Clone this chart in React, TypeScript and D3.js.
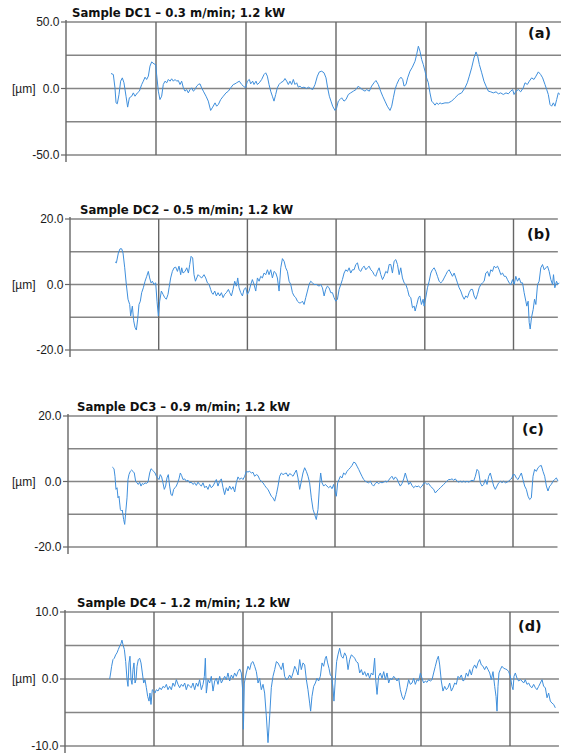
import React from 'react';
import * as d3 from 'd3';

type Pt = [number, number];

// profile position (grid units) vs height (µm)
const titles = [
    'Sample DC1 – 0.3 m/min; 1.2 kW',
    'Sample DC2 – 0.5 m/min; 1.2 kW',
    'Sample DC3 – 0.9 m/min; 1.2 kW',
    'Sample DC4 – 1.2 m/min; 1.2 kW',
];
const tags = ['(a)', '(b)', '(c)', '(d)'];
const yLimits = [50, 20, 20, 10];
const yGridSteps = [25, 10, 10, 5];
const yUnit = '[µm]';

const profileA: Pt[] = [
    [0.500, 11.3], [0.526, 10.5], [0.544, 0.5], [0.556, -10.8], [0.570, -11.5], [0.589, -4.5], [0.607, 5.5], [0.626, 8],
    [0.644, 4.3], [0.667, -5.8], [0.685, -14], [0.704, -7], [0.730, -5.8], [0.748, -3.3], [0.767, -5.8], [0.793, -3.3],
    [0.815, -2], [0.841, 3], [0.859, 5.5], [0.878, 8.5], [0.896, 6.8], [0.915, 9.3], [0.933, 16.8], [0.952, 20],
    [0.978, 18.5], [0.996, 18], [1.007, 10.5], [1.026, -2], [1.044, -8.3], [1.063, -5.8], [1.081, 3], [1.100, 5.5],
    [1.119, 4.3], [1.137, 6.8], [1.156, 5.5], [1.174, 7.3], [1.193, 5.5], [1.211, 6.8], [1.230, 5.5], [1.248, 6],
    [1.267, 3], [1.285, 5.5], [1.304, 0.5], [1.322, -2], [1.341, -0.8], [1.359, -3.3], [1.378, -0.8], [1.396, 0.5],
    [1.415, -2], [1.433, -0.8], [1.452, 1.8], [1.470, 3], [1.489, 3.5], [1.507, 0.5], [1.526, -2], [1.556, -5.8],
    [1.581, -9.5], [1.607, -16.5], [1.630, -14], [1.656, -10.8], [1.674, -13.3], [1.693, -12], [1.719, -8.3], [1.748, -5.8],
    [1.778, -3.3], [1.804, -2], [1.830, 0.5], [1.859, 3], [1.878, 3.5], [1.896, 4.3], [1.926, 5.5], [1.952, 3],
    [1.970, 1.8], [1.996, 0.5], [2.015, 5.5], [2.037, 6.8], [2.052, 3.5], [2.074, 5.5], [2.089, 3], [2.111, 5.5],
    [2.126, 3], [2.148, 4.3], [2.174, 6.8], [2.200, 10.5], [2.219, 11.8], [2.237, 9.3], [2.256, 3], [2.274, -2],
    [2.293, -5.8], [2.311, -9.5], [2.330, -4.5], [2.348, 0.5], [2.367, 3], [2.385, 4.3], [2.415, 5.5], [2.433, 7.5],
    [2.452, 5.5], [2.470, 3], [2.489, 5.5], [2.507, 3], [2.526, 6.8], [2.544, 3], [2.563, 4.3], [2.581, 1],
    [2.600, 1.8], [2.619, 0.5], [2.644, 1], [2.674, 0], [2.693, 1], [2.719, 0], [2.741, -0.8], [2.767, 3],
    [2.793, 9.3], [2.815, 12.5], [2.841, 13], [2.867, 11.8], [2.889, 8], [2.907, 0.5], [2.926, -5.8], [2.944, -9.5],
    [2.963, -13.3], [2.989, -16.5], [3.007, -14.5], [3.026, -9.5], [3.044, -8.3], [3.063, -7], [3.089, -9.5], [3.111, -8.3],
    [3.137, -4.5], [3.163, -3.3], [3.193, -2], [3.222, -0.8], [3.248, 1.8], [3.267, 0.5], [3.293, -0.8], [3.322, -2],
    [3.341, -0.8], [3.370, -2], [3.396, 1.8], [3.422, 4.3], [3.444, 6], [3.470, 3], [3.496, -2], [3.519, -5.8],
    [3.544, -9.5], [3.570, -13.3], [3.600, -16.5], [3.619, -13.3], [3.637, -7], [3.656, -0.8], [3.674, 3], [3.700, 6.8],
    [3.722, 8.5], [3.741, 6.8], [3.756, 1.8], [3.778, 3], [3.796, 8], [3.822, 13], [3.848, 16], [3.878, 20.5],
    [3.896, 25.5], [3.915, 31.8], [3.933, 28], [3.952, 21.8], [3.970, 18], [3.989, 13], [4.007, 8], [4.026, 4.3],
    [4.044, -3.3], [4.063, -9.5], [4.081, -10.8], [4.100, -12.5], [4.119, -10.8], [4.137, -12], [4.156, -10.8], [4.174, -11.5],
    [4.211, -10.8], [4.248, -10.8], [4.285, -9.5], [4.322, -7], [4.359, -4.5], [4.396, -3.3], [4.433, 0.5], [4.459, 4.3],
    [4.481, 9.3], [4.507, 15.5], [4.533, 23], [4.556, 27.5], [4.574, 24.3], [4.593, 18], [4.619, 11.8], [4.644, 5.5],
    [4.667, 1.8], [4.693, -2], [4.719, -2.5], [4.748, -3.3], [4.778, -2.5], [4.804, -4], [4.830, -3.3], [4.859, -4.5],
    [4.889, -3.3], [4.915, -4], [4.941, -2], [4.963, -0.8], [4.978, -4.5], [5.000, -2], [5.026, -0.8], [5.052, -2.5],
    [5.081, 0.5], [5.100, 4.3], [5.126, 3], [5.148, 5.5], [5.174, 8], [5.200, 6.8], [5.222, 9.3], [5.248, 12.5],
    [5.274, 10.5], [5.296, 8], [5.322, 3], [5.341, -0.8], [5.359, -4.5], [5.378, -12], [5.396, -13.3], [5.415, -10.8],
    [5.433, -13.3], [5.452, -8.3], [5.470, -3.3], [5.489, -4.5],
];

const profileB: Pt[] = [
    [0.508, 6.9], [0.523, 6.6], [0.545, 9.6], [0.564, 10.9], [0.583, 10.9], [0.598, 9.6], [0.617, 5.1], [0.635, 0],
    [0.654, -4.5], [0.673, -6.1], [0.684, -9.6], [0.703, -6.6], [0.718, -11.1], [0.733, -13.1], [0.748, -13.9], [0.763, -10.6],
    [0.778, -6.1], [0.793, -5.1], [0.808, -2.5], [0.827, -1], [0.846, 1], [0.865, 2.5], [0.883, 4], [0.898, 2],
    [0.914, 0.5], [0.929, 1], [0.947, 0], [0.966, 0.5], [0.981, -5.1], [0.996, -9.6], [1.011, -5.1], [1.030, -2],
    [1.049, -3], [1.068, -4], [1.086, -4.5], [1.105, -3], [1.117, -1], [1.135, 2], [1.154, 4], [1.173, 5.1],
    [1.192, 5.3], [1.211, 4], [1.229, 5.6], [1.248, 3], [1.259, 5.1], [1.274, 3.5], [1.297, 4], [1.316, 5.1],
    [1.335, 3.5], [1.350, 6.1], [1.365, 8.6], [1.383, 8.1], [1.398, 3], [1.414, 1], [1.429, 2], [1.444, 3],
    [1.462, 2.5], [1.485, 2], [1.511, 3], [1.530, 2], [1.549, 0.5], [1.568, 0], [1.586, -1.5], [1.598, -2.5],
    [1.613, -3], [1.632, -2], [1.650, -3.5], [1.669, -2.5], [1.688, -3.5], [1.707, -2.5], [1.726, -4], [1.744, -3],
    [1.763, -2.5], [1.786, -1.5], [1.801, -2.5], [1.820, -3.5], [1.838, -1.5], [1.857, 1], [1.876, -0.5], [1.891, 2],
    [1.906, -1], [1.925, -2.5], [1.944, -3.5], [1.962, -1.5], [1.981, -1], [2.000, -3], [2.019, -2], [2.038, 0],
    [2.056, 1.5], [2.075, 0], [2.094, -2], [2.113, 2], [2.132, 1], [2.150, 2.5], [2.169, 2], [2.188, 3.5],
    [2.207, 3], [2.226, 4.5], [2.244, 3], [2.263, 4.5], [2.282, 2], [2.301, 4], [2.320, 3.5], [2.338, 2],
    [2.357, -2], [2.376, 5.1], [2.395, 7.9], [2.414, 7.1], [2.432, 5.1], [2.451, 4], [2.470, 1], [2.489, 0],
    [2.508, -2.5], [2.526, -3.5], [2.545, -4], [2.564, -5.1], [2.583, -5.6], [2.602, -5.6], [2.620, -5.1], [2.639, -6.1],
    [2.658, -4], [2.677, -2], [2.695, 0], [2.714, 1], [2.733, 0.5], [2.752, 0], [2.778, 0], [2.808, -0.5],
    [2.827, 0], [2.846, -1], [2.865, -3.5], [2.883, -1.5], [2.902, -0.5], [2.921, -1], [2.940, -2.5], [2.959, -2.5],
    [2.977, -4], [2.996, -5.1], [3.015, -4.5], [3.034, -1.5], [3.053, 0], [3.071, 1.5], [3.090, 3.5], [3.109, 4.5],
    [3.128, 4], [3.147, 5.1], [3.165, 3.5], [3.184, 4.5], [3.203, 4.5], [3.222, 6.1], [3.241, 6.6], [3.259, 4.5],
    [3.278, 4], [3.297, 5.1], [3.316, 5.6], [3.335, 4.5], [3.353, 5.1], [3.372, 5.6], [3.391, 4.5], [3.410, 4],
    [3.429, 3], [3.447, 2.5], [3.466, 4], [3.485, 5.1], [3.504, 3], [3.523, 1.5], [3.541, 2.5], [3.560, 4],
    [3.579, 3.5], [3.598, 6.1], [3.617, 6.1], [3.635, 3.5], [3.654, 7.1], [3.673, 7.6], [3.692, 6.1], [3.711, 3],
    [3.729, 5.1], [3.748, 2], [3.767, 0.5], [3.786, 0], [3.805, -1.5], [3.823, -3.5], [3.842, -4], [3.861, -7.1],
    [3.880, -6.6], [3.891, -8.1], [3.910, -6.1], [3.929, -4], [3.944, -3.5], [3.962, -6.1], [3.981, -4.5], [3.992, -6.6],
    [4.011, -4], [4.030, -1], [4.049, 1], [4.068, 3.5], [4.086, 4.5], [4.105, 5.1], [4.124, 4], [4.143, 2.5],
    [4.162, 1], [4.180, 0.5], [4.199, 1], [4.218, 2], [4.237, 3], [4.256, 4], [4.274, 4.5], [4.293, 3.5],
    [4.312, 2.5], [4.331, 3.5], [4.350, 2], [4.368, 0.5], [4.387, -1], [4.406, -2], [4.425, -3.5], [4.444, -4.5],
    [4.462, -3.5], [4.481, -4], [4.500, -2.5], [4.519, -1.5], [4.538, -1.5], [4.556, -3.5], [4.575, -4.5], [4.594, -3],
    [4.613, -1], [4.632, 0], [4.650, 0.5], [4.669, 1], [4.688, 3.5], [4.707, 4], [4.726, 2.5], [4.744, 4.5],
    [4.763, 4], [4.782, 5.6], [4.801, 5.1], [4.820, 5.6], [4.838, 4.5], [4.857, 3], [4.876, 3.5], [4.895, 2.5],
    [4.914, 2.5], [4.932, 1.5], [4.951, 0.5], [4.970, 0], [4.989, 1.5], [5.008, 0], [5.026, 2.5], [5.045, 1],
    [5.064, 2], [5.083, 0.5], [5.102, 0.5], [5.120, -2.5], [5.139, -5.1], [5.150, -6.6], [5.165, -5.1], [5.177, -11.6],
    [5.188, -13.6], [5.203, -10.1], [5.222, -7.6], [5.237, -4.5], [5.252, -6.1], [5.271, 0], [5.289, 1], [5.308, 5.1],
    [5.327, 6.1], [5.346, 4.5], [5.365, 5.1], [5.383, 5.6], [5.402, 4], [5.421, 1.5], [5.440, 0], [5.451, 3],
    [5.466, -1], [5.485, 1], [5.500, 0], [5.515, 0.5],
];

const profileC: Pt[] = [
    [0.498, 4.4], [0.517, 3.9], [0.528, 1.6], [0.539, -2.4], [0.551, -1.9], [0.562, -5], [0.573, -4.5], [0.588, -8.5],
    [0.599, -9], [0.610, -8.7], [0.625, -11.6], [0.637, -13.1], [0.648, -9.5], [0.663, -5], [0.674, 0.6], [0.685, 2.1],
    [0.700, 3.1], [0.715, 3.5], [0.730, 3.1], [0.745, 2.6], [0.760, 0.1], [0.775, -0.4], [0.790, -0.9], [0.805, -0.2],
    [0.820, -1.4], [0.835, -0.6], [0.850, -0.9], [0.865, -0.4], [0.880, -0.6], [0.899, -0.2], [0.918, 2.6], [0.933, 3.9],
    [0.948, 3.5], [0.963, 3.1], [0.978, 2.6], [0.993, 1.6], [1.007, 1.1], [1.022, 0.6], [1.037, 2.1], [1.052, 1.4],
    [1.067, -0.4], [1.082, -2.4], [1.097, -1.4], [1.112, 1.1], [1.127, 2.1], [1.142, -1.4], [1.157, -4], [1.172, -4.3],
    [1.187, -2.4], [1.202, -1.9], [1.217, -1.4], [1.232, -0.4], [1.247, 0.8], [1.262, 2.6], [1.277, 1.8], [1.292, 0.6],
    [1.311, 0.8], [1.330, 0.1], [1.348, 0.4], [1.367, -0.4], [1.386, -0.2], [1.404, -0.9], [1.423, -0.4], [1.442, -1.2],
    [1.461, -0.2], [1.479, -0.9], [1.498, -1.4], [1.517, -0.4], [1.536, -1.9], [1.554, -1.4], [1.573, -2.4], [1.592, -0.9],
    [1.610, -1.9], [1.629, -1.4], [1.648, -0.4], [1.667, 0.6], [1.685, -1.4], [1.704, 0.1], [1.723, 0.8], [1.742, -1.9],
    [1.760, -4], [1.779, -1.9], [1.798, -2.9], [1.816, -1.4], [1.835, -2.4], [1.854, -1.6], [1.873, -3.2], [1.891, -0.4],
    [1.910, 1.4], [1.929, 0.6], [1.948, 1.1], [1.966, 0.6], [1.985, 1.6], [2.004, 3.1], [2.022, 2.9], [2.041, 3.1],
    [2.060, 2.6], [2.079, 2.8], [2.097, 1.6], [2.116, 2.1], [2.135, 1.8], [2.154, 0.6], [2.172, 0.1], [2.191, -0.4],
    [2.210, -1.2], [2.228, -1.9], [2.247, -2.4], [2.266, -3.5], [2.285, -4.5], [2.303, -5], [2.322, -6], [2.341, -4],
    [2.360, -1.4], [2.378, 1.6], [2.397, 2.6], [2.416, 2.1], [2.434, 2.4], [2.453, 2.6], [2.472, 1.6], [2.491, 2.4],
    [2.509, 2.1], [2.528, 1.6], [2.547, 2.6], [2.566, 3.5], [2.584, 1.1], [2.603, -2.4], [2.622, 0.1], [2.640, 2.6],
    [2.659, 4.2], [2.678, 3.1], [2.697, 1.6], [2.715, -0.4], [2.734, -5], [2.753, -8.5], [2.772, -10.1], [2.790, -11.6],
    [2.809, -8.5], [2.828, -0.4], [2.839, 2.6], [2.854, -0.4], [2.873, -1.4], [2.891, -0.9], [2.910, -1.4], [2.929, -1.9],
    [2.948, -1.4], [2.966, -2.2], [2.985, -0.9], [3.000, -2.9], [3.015, -4.5], [3.030, -0.4], [3.045, 0.6], [3.060, 1.6],
    [3.079, 1.1], [3.097, 2.6], [3.116, 2.1], [3.135, 3.1], [3.154, 3.7], [3.172, 4.2], [3.191, 4.9], [3.210, 5.9],
    [3.228, 5.7], [3.247, 4.7], [3.266, 3.7], [3.285, 2.6], [3.303, 1.6], [3.322, 0.6], [3.341, 0.1], [3.360, -0.2],
    [3.378, -0.4], [3.397, 0.1], [3.416, -0.9], [3.434, -1.4], [3.453, -0.6], [3.472, -0.2], [3.491, -0.7], [3.509, -0.2],
    [3.528, -0.4], [3.547, -0.2], [3.566, 0.1], [3.584, -0.2], [3.603, 0.4], [3.622, 1.1], [3.640, 1.6], [3.659, 0.6],
    [3.678, 1.4], [3.697, 0.8], [3.715, -0.4], [3.734, -1.4], [3.753, -0.6], [3.772, 0.8], [3.790, 2.6], [3.809, 0.8],
    [3.828, -0.9], [3.846, -0.2], [3.865, -1.2], [3.884, -1.9], [3.903, -1.4], [3.921, -1.6], [3.940, -1.4], [3.959, -1.9],
    [3.978, -1.4], [3.996, -0.6], [4.015, -0.4], [4.034, -0.9], [4.052, -0.6], [4.071, -1.4], [4.090, -1.9], [4.109, -2.4],
    [4.127, -3.5], [4.146, -2.9], [4.165, -2.4], [4.184, -1.9], [4.202, -1.4], [4.221, -0.9], [4.240, -0.4], [4.258, 0.1],
    [4.277, 0.6], [4.296, 0.6], [4.315, 0.8], [4.333, 0.4], [4.352, 0.8], [4.371, 0.1], [4.390, -0.2], [4.408, 0.1],
    [4.427, -0.2], [4.446, 0.1], [4.464, -0.2], [4.483, 0.1], [4.502, -0.2], [4.521, 0.1], [4.539, 0.4], [4.558, 0.1],
    [4.577, 1.6], [4.596, 3.7], [4.614, 3.1], [4.633, -0.4], [4.652, -1.4], [4.670, -0.9], [4.689, 0.6], [4.708, -0.9],
    [4.727, 1.6], [4.745, 2.6], [4.764, 0.6], [4.783, -1.4], [4.801, -2.4], [4.820, -1.4], [4.839, -0.4], [4.858, 0.1],
    [4.876, -0.4], [4.895, 0.1], [4.914, -0.4], [4.933, -0.2], [4.951, 0.1], [4.970, 0.6], [4.989, 1.1], [5.000, 2.1],
    [5.019, 2.1], [5.037, 1.1], [5.056, 0.6], [5.075, 1.6], [5.094, 2.6], [5.112, 0.6], [5.131, -1.4], [5.150, -2.4],
    [5.169, -4.5], [5.187, -5.5], [5.206, -5], [5.225, 1.6], [5.243, 3.7], [5.262, 3.1], [5.281, 4.2], [5.300, 4.7],
    [5.318, 4.9], [5.337, 3.1], [5.356, 1.6], [5.375, -1.4], [5.393, -2.9], [5.412, -1.4], [5.431, -0.9], [5.449, 0.1],
    [5.468, 0.6], [5.487, 1.1], [5.506, 0.1],
];

const profileD: Pt[] = [
    [0.502, 0], [0.513, 0.9], [0.524, 1.9], [0.539, 2.9], [0.554, 3.1], [0.569, 3.6], [0.584, 3.9], [0.599, 4.4],
    [0.614, 4.9], [0.629, 5.3], [0.640, 5.8], [0.652, 5.1], [0.667, 4.4], [0.682, 2.6], [0.697, -0.1], [0.708, -1.1],
    [0.719, 2.4], [0.730, 3.4], [0.742, -0.1], [0.753, -0.8], [0.764, 1.4], [0.775, 2.4], [0.787, -0.6], [0.798, -0.1],
    [0.809, 1.9], [0.824, 2.9], [0.839, 3.1], [0.854, 2.4], [0.869, 0.9], [0.884, -0.6], [0.899, -0.1], [0.914, -1.3],
    [0.929, -2.6], [0.944, -3.3], [0.955, -2.1], [0.966, -3.8], [0.981, -1.6], [0.996, -1.8], [1.011, -2.1], [1.026, -1.6],
    [1.045, -1.8], [1.064, -1.3], [1.082, -1.6], [1.101, -1.1], [1.120, -1.3], [1.139, -0.8], [1.157, -1.6], [1.176, -1.1],
    [1.195, -1.6], [1.213, -0.6], [1.232, -1.1], [1.251, -0.1], [1.270, -0.8], [1.288, -1.3], [1.307, -0.8], [1.326, -1.1],
    [1.345, -0.6], [1.363, -1.6], [1.382, -0.8], [1.401, -1.1], [1.419, -1.3], [1.438, -0.6], [1.457, -1.6], [1.476, -0.6],
    [1.494, -1.1], [1.513, -0.1], [1.532, -1.6], [1.551, -0.8], [1.566, 0.4], [1.577, 3.1], [1.588, -2.1], [1.607, -0.1],
    [1.625, -0.6], [1.644, 0.4], [1.663, -1.8], [1.682, -0.3], [1.700, 0.1], [1.719, -0.8], [1.738, 0.4], [1.757, -0.6],
    [1.775, -0.1], [1.794, 0.4], [1.813, -0.1], [1.831, 0.9], [1.850, -0.3], [1.869, 0.6], [1.888, 0.1], [1.906, 0.9],
    [1.925, 0.4], [1.944, 1.1], [1.963, 1.5], [1.981, 0.9], [1.996, -1.6], [2.004, -7.5], [2.007, -6], [2.015, -0.6],
    [2.037, 0.9], [2.056, 1.9], [2.075, 1.4], [2.094, 2.4], [2.112, 2.6], [2.131, 1.9], [2.150, 1.1], [2.169, -0.6],
    [2.187, 0.1], [2.206, -1.6], [2.225, -0.8], [2.243, -2.1], [2.262, -5.5], [2.281, -9.5], [2.300, -5.5], [2.318, -1.3],
    [2.337, 0.4], [2.356, 1.4], [2.375, 2.6], [2.393, 2.4], [2.412, 1.9], [2.431, 1.4], [2.449, 2.4], [2.468, 0.4],
    [2.487, -0.1], [2.506, 0.1], [2.524, 0.6], [2.543, 0.1], [2.562, 0.9], [2.581, 1.9], [2.599, 1.4], [2.618, 0.6],
    [2.637, 2.9], [2.655, 1.4], [2.674, 2.4], [2.693, 2.1], [2.712, -0.1], [2.730, -1.6], [2.749, -3.6], [2.760, -4.8],
    [2.775, -2.6], [2.794, -1.1], [2.813, -0.6], [2.831, 0.1], [2.850, -0.3], [2.869, 0.4], [2.888, 2.4], [2.906, 1.9],
    [2.925, 3.1], [2.936, 3.4], [2.951, 2.4], [2.966, 1.6], [2.981, 0.6], [2.996, 0.4], [3.011, -1.3], [3.022, -3.3],
    [3.037, -0.1], [3.052, 2.6], [3.067, 3.6], [3.086, 4.6], [3.105, 3.4], [3.124, 3.1], [3.142, 3.9], [3.161, 3.4],
    [3.180, 1.4], [3.199, 2.9], [3.217, 3.6], [3.236, 3.4], [3.255, 3.1], [3.273, 2.6], [3.292, 2.4], [3.311, 0.9],
    [3.330, 1.4], [3.348, 0.6], [3.367, 1.1], [3.386, 0.4], [3.404, 0.9], [3.423, 0.1], [3.442, 0.9], [3.461, 0.6],
    [3.479, 3.1], [3.491, -0.1], [3.506, -2.3], [3.524, 0.4], [3.543, 0.9], [3.562, 0.1], [3.581, 1.1], [3.599, -0.1],
    [3.618, 0.9], [3.637, -0.6], [3.655, 0.1], [3.674, -0.1], [3.693, 0.4], [3.712, 0.1], [3.730, -0.3], [3.749, 0.1],
    [3.768, -1.6], [3.787, -2.6], [3.805, -3.1], [3.824, -2.3], [3.843, -1.3], [3.861, -0.1], [3.880, -0.8], [3.899, -0.6],
    [3.918, 0.1], [3.936, -0.8], [3.955, -0.1], [3.974, -0.3], [3.993, 0.9], [4.011, 0.1], [4.030, -0.6], [4.049, -0.3],
    [4.067, -0.5], [4.086, -0.1], [4.105, -0.3], [4.124, -0.1], [4.142, 0.9], [4.161, 1.9], [4.180, 2.9], [4.195, 3.4],
    [4.210, 2.1], [4.228, -0.3], [4.247, -1.8], [4.266, -1.1], [4.285, -1.6], [4.303, -1.3], [4.322, -0.6], [4.341, -1.8],
    [4.360, -1.3], [4.378, -0.6], [4.397, -0.8], [4.416, 0.4], [4.434, 0.1], [4.453, 0.6], [4.472, -0.3], [4.491, -0.1],
    [4.509, 0.9], [4.528, 0.4], [4.547, 1.4], [4.566, 0.6], [4.584, 1.6], [4.603, 2.1], [4.622, 1.6], [4.640, 2.4],
    [4.659, 2.9], [4.678, 2.1], [4.697, 1.9], [4.715, 1.4], [4.734, 1.9], [4.753, 1.4], [4.772, 0.9], [4.790, -0.1],
    [4.809, 1.1], [4.828, -1.1], [4.843, -2.6], [4.854, -4.8], [4.865, -1.1], [4.876, 0.9], [4.891, 1.4], [4.910, 1.9],
    [4.929, 1.6], [4.948, 1.5], [4.966, 1.4], [4.985, 1.1], [5.004, 0.4], [5.022, -1.1], [5.034, -1.6], [5.045, 0.4],
    [5.060, 0.9], [5.079, 0.1], [5.097, -0.3], [5.116, -0.1], [5.135, -0.3], [5.154, -0.6], [5.172, -0.1], [5.191, -0.8],
    [5.210, -0.6], [5.228, -1.1], [5.247, -1.3], [5.266, -0.8], [5.285, -1.3], [5.303, -1.6], [5.322, -1.1], [5.341, -0.6],
    [5.360, -0.1], [5.378, -1.1], [5.397, -1.3], [5.416, -2.8], [5.434, -2.1], [5.453, -3.3], [5.472, -3.6], [5.491, -3.8],
    [5.509, -4.3],
];

const profiles = [profileA, profileB, profileC, profileD];

// where each panel sits on the page
const panels = [
    { left: 66, top: 22, bottom: 155, gridStep: 90, xMax: 5.5, titleX: 72, tagX: 528, tagY: 38 },
    { left: 70, top: 219, bottom: 350, gridStep: 88.7, xMax: 5.5, titleX: 80, tagX: 527, tagY: 239 },
    { left: 68, top: 416, bottom: 547, gridStep: 89, xMax: 5.5, titleX: 77, tagX: 522, tagY: 434 },
    { left: 65, top: 612, bottom: 746, gridStep: 89, xMax: 5.55, titleX: 77, tagX: 518, tagY: 631 },
];

const gridColor = '#858585';
const axisColor = '#666';
const lineColor = '#3f8fdc';

const Panel: React.FC<{ i: number }> = ({ i }) => {
    const p = panels[i];
    const lim = yLimits[i];
    const x = d3.scaleLinear().domain([0, p.xMax]).range([p.left, p.left + p.xMax * p.gridStep]);
    const y = d3.scaleLinear().domain([-lim, lim]).range([p.bottom, p.top]);
    const hLines = d3.range(-lim, lim + 0.001, yGridSteps[i]);
    const vLines = d3.range(1, Math.floor(p.xMax) + 1);
    const labelled = [lim, 0, -lim];
    const line = d3.line<Pt>().x(d => x(d[0])).y(d => y(d[1]));
    const [x0, x1] = x.range();

    return (
        <g>
            <text x={p.titleX} y={p.top - 5.5} fontFamily="DejaVu Sans" fontWeight="bold" fontSize={11.7} fill="#111">
                {titles[i]}
            </text>
            {hLines.map(v => (
                <line key={'h' + v} x1={x0} x2={x1} y1={y(v)} y2={y(v)} stroke={gridColor} strokeWidth={1.4} />
            ))}
            {vLines.map(v => (
                <line key={'v' + v} x1={x(v)} x2={x(v)} y1={p.top} y2={p.bottom} stroke={axisColor} strokeWidth={1.4} />
            ))}
            <line x1={x0} x2={x0} y1={p.top - 2} y2={p.bottom + 7} stroke={axisColor} strokeWidth={1.4} />
            {labelled.map(v => (
                <g key={'t' + v}>
                    <line x1={x0 - 5} x2={x0} y1={y(v)} y2={y(v)} stroke={axisColor} strokeWidth={1.2} />
                    <text x={x0 - 6.5} y={y(v)} dy="0.35em" textAnchor="end" fontFamily="Liberation Sans" fontSize={12} fill="#1a1a1a">
                        {v.toFixed(1)}
                    </text>
                </g>
            ))}
            <text x={12} y={y(0)} dy="0.35em" fontFamily="Liberation Sans" fontSize={12} fill="#1a1a1a">{yUnit}</text>
            <path d={line(profiles[i]) ?? ''} fill="none" stroke={lineColor} strokeWidth={1} strokeLinejoin="round" />
            <text x={p.tagX} y={p.tagY} fontFamily="DejaVu Sans" fontWeight="bold" fontSize={14.5} fill="#111">
                {tags[i]}
            </text>
        </g>
    );
};

const App: React.FC = () => (
    <svg width={564} height={753} style={{ position: 'absolute', left: 0, top: 0, background: '#fff' }}>
        {panels.map((_, i) => <Panel key={i} i={i} />)}
    </svg>
);

export default App;
